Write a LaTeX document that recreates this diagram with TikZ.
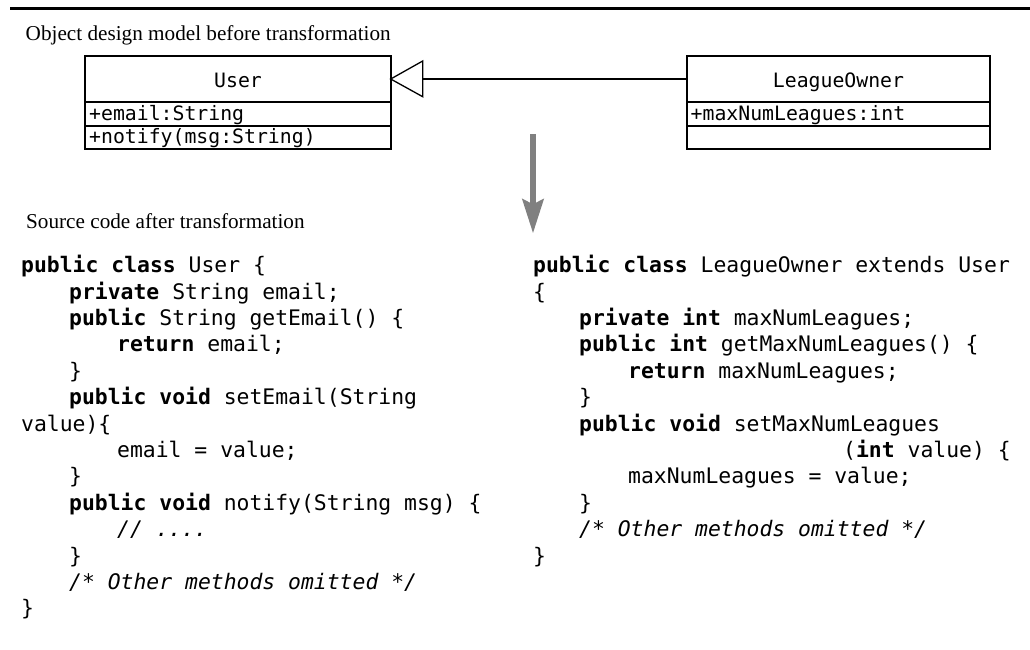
\documentclass[tikz,border=0pt]{standalone}
\usepackage{fontspec}
\setmainfont{Liberation Serif}
\newfontfamily\codefont{DejaVu Sans Mono}
\usetikzlibrary{arrows.meta}
\tikzset{
  code/.style={anchor=base west, inner sep=0pt, font=\codefont\fontsize{21.4}{26}\selectfont},
  umltxt/.style={inner sep=0pt, font=\codefont\fontsize{19.8}{24}\selectfont},
  caption/.style={anchor=base west, inner sep=0pt, font=\fontsize{21.2}{24}\selectfont},
  umlbox/.style={draw=black, line width=2pt},
}
\newcommand{\kw}[1]{\textbf{#1}}
\begin{document}
\begin{tikzpicture}[x=1pt,y=-1pt]
\useasboundingbox (0,0) rectangle (1030,649);
% top rule
\draw[line width=3.3pt] (10,8.3) -- (1030,8.3);
% captions
\node[caption] (cap1) at (25.5,40.7) {Object design model before transformation};
\node[caption] (cap2) at (26,228.7) {Source code after transformation};
% User class
\draw[umlbox] (85,55.7) rectangle (390.7,149);
\draw[umlbox] (85,101.7) -- (390.7,101.7);
\draw[umlbox] (85,125.9) -- (390.7,125.9);
\coordinate (usertip) at (390.7,79);
\node[umltxt, anchor=base] (uname) at (238,87) {User};
\node[umltxt, anchor=base west] (uattr) at (89,120.3) {+email:String};
\node[umltxt, anchor=base west] (uop) at (89,143.5) {+notify(msg:String)};
% LeagueOwner class
\draw[umlbox] (686.7,55.7) rectangle (990,148.5);
\draw[umlbox] (686.7,101.7) -- (990,101.7);
\draw[umlbox] (686.7,125.7) -- (990,125.7);
\coordinate (lowest) at (686.7,79);
\node[umltxt, anchor=base] (lname) at (838.5,87) {LeagueOwner};
\node[umltxt, anchor=base west] (lattr) at (690.5,120.3) {+maxNumLeagues:int};
% generalization
\draw[line width=2pt] (lowest) -- (422.7,79);
\draw[line width=1.3pt, fill=white] (usertip) -- (422.7,61) -- (422.7,96.7) -- cycle;
% transformation arrow
\coordinate (arrtop) at (533,134);
\coordinate (arrbot) at (533,233.3);
\draw[draw=gray, line width=6pt, -{Stealth[length=34pt,width=21pt,inset=5pt,fill=gray]}] (arrtop) -- (arrbot);
% left code
\node[code] (l0) at (21,272.7) {\kw{public class} User \{};
\node[code] (l1) at (69,299.1) {\kw{private} String email;};
\node[code] (l2) at (69,325.5) {\kw{public} String getEmail() \{};
\node[code] (l3) at (117,351.9) {\kw{return} email;};
\node[code] (l4) at (69,378.3) {\}};
\node[code] (l5) at (69,404.7) {\kw{public void} setEmail(String};
\node[code] (l6) at (21,431.1) {value)\{};
\node[code] (l7) at (117,457.5) {email = value;};
\node[code] (l8) at (69,483.9) {\}};
\node[code] (l9) at (69,510.3) {\kw{public void} notify(String msg) \{};
\node[code] (l10) at (117,536.7) {\textit{// ....}};
\node[code] (l11) at (69,563.1) {\}};
\node[code] (l12) at (69,589.5) {\textit{/* Other methods omitted */}};
\node[code] (l13) at (21,615.9) {\}};
% right code
\node[code] (r0) at (533,272.7) {\kw{public class} LeagueOwner extends User};
\node[code] (r1) at (533,299.1) {\{};
\node[code] (r2) at (579,325.5) {\kw{private int} maxNumLeagues;};
\node[code] (r3) at (579,351.9) {\kw{public int} getMaxNumLeagues() \{};
\node[code] (r4) at (628,378.3) {\kw{return} maxNumLeagues;};
\node[code] (r5) at (579,404.7) {\}};
\node[code] (r6) at (579,431.1) {\kw{public void} setMaxNumLeagues};
\node[code] (r7) at (843,457.5) {(\kw{int} value) \{};
\node[code] (r8) at (628,483.9) {maxNumLeagues = value;};
\node[code] (r9) at (579,510.3) {\}};
\node[code] (r10) at (579,536.7) {\textit{/* Other methods omitted */}};
\node[code] (r11) at (533,563.1) {\}};
\end{tikzpicture}
\end{document}
